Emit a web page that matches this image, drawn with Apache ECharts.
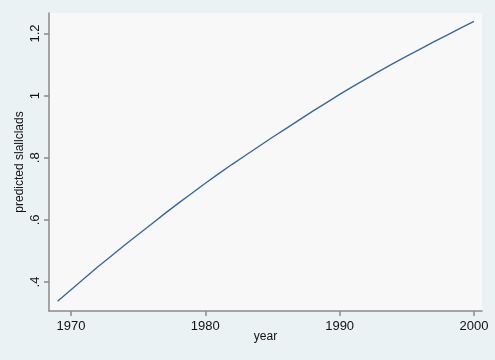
<!DOCTYPE html>
<html>
<head>
<meta charset="utf-8">
<script src="https://cdn.jsdelivr.net/npm/echarts@6/dist/echarts.min.js"></script>
<style>
html,body{margin:0;padding:0;background:#eaf2f3;}
#c{width:495px;height:360px;}
</style>
</head>
<body>
<div id="c"></div>
<script>
const years = [1969,1970,1971,1972,1973,1974,1975,1976,1977,1978,1979,1980,1981,1982,1983,1984,1985,1986,1987,1988,1989,1990,1991,1992,1993,1994,1995,1996,1997,1998,1999,2000];
const predicted = [0.338,0.375,0.412,0.449,0.484,0.519,0.553,0.587,0.621,0.654,0.686,0.718,0.749,0.779,0.808,0.837,0.866,0.894,0.922,0.950,0.977,1.004,1.030,1.055,1.080,1.104,1.127,1.150,1.173,1.195,1.217,1.239];
const xTicks = [1970,1980,1990,2000];
const yTicks = [0.4,0.6,0.8,1,1.2];
const xTitle = 'year';
const yTitle = 'predicted slallclads';

const chart = echarts.init(document.getElementById('c'), null, {renderer:'canvas'});
const font = 'Liberation Sans, Arial, Helvetica, sans-serif';
chart.setOption({
  backgroundColor: '#eaf2f3',
  animation: false,
  grid: {left:49, top:13, right:13, bottom:49, show:true, backgroundColor:'#f8f8f8', borderWidth:0},
  xAxis: {
    type:'value', min:1968.36, max:2000.6,
    name: xTitle, nameLocation:'middle', nameGap:20, nameMoveOverlap:false,
    nameTextStyle:{fontFamily:font, fontSize:12, color:'#111'},
    splitLine:{show:false},
    axisLine:{show:true, lineStyle:{color:'#8a8a8a', width:1.5}},
    axisTick:{show:true, length:5, customValues:xTicks, lineStyle:{color:'#8a8a8a', width:1.5}},
    axisLabel:{customValues:xTicks, fontFamily:font, fontSize:13, color:'#111', margin:9, formatter:v=>String(v)}
  },
  yAxis: {
    type:'value', min:0.3068, max:1.266,
    name: yTitle, nameLocation:'middle', nameGap:23, nameRotate:90, nameMoveOverlap:false,
    nameTextStyle:{fontFamily:font, fontSize:12, color:'#111'},
    splitLine:{show:false},
    axisLine:{show:true, lineStyle:{color:'#8a8a8a', width:1.5}},
    axisTick:{show:true, length:5, customValues:yTicks, lineStyle:{color:'#8a8a8a', width:1.5}},
    axisLabel:{customValues:yTicks, rotate:90, fontFamily:font, fontSize:13, color:'#111', margin:7,
      formatter:v=>{ let s = String(Math.round(v*10)/10); return s.startsWith('0.') ? s.slice(1) : s; }}
  },
  series: [{
    type:'line', data: years.map((y,i)=>[y,predicted[i]]),
    showSymbol:false, smooth:false,
    lineStyle:{color:'#3a6898', width:1.4}
  }]
});
</script>
</body>
</html>
